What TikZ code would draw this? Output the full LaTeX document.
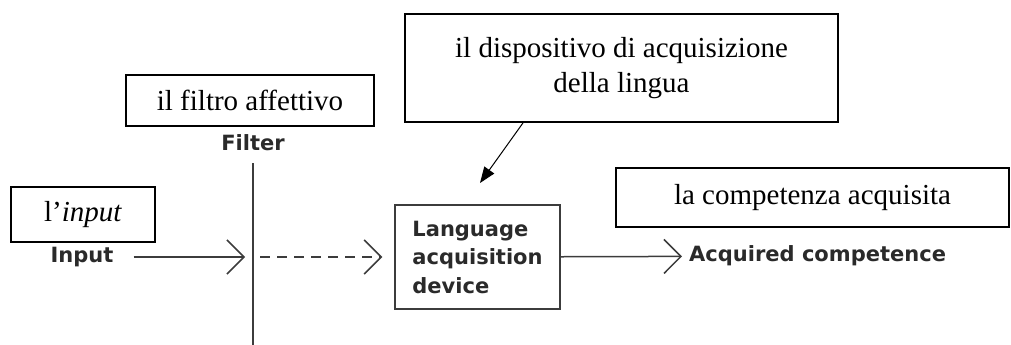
\documentclass[tikz,border=0pt]{standalone}
\usepackage{fontspec}
\setmainfont{Liberation Serif}
\newfontfamily\sansbold{DejaVu Sans}
\usetikzlibrary{arrows.meta}
\definecolor{ink}{HTML}{3C3C3C}
\begin{document}
\begin{tikzpicture}[x=1pt,y=-1pt,
  note/.style={draw,line width=1.8pt,inner sep=0pt,align=center,font=\fontsize{29}{35}\selectfont},
  tag/.style={text=ink!70!black,inner sep=0pt,font=\sansbold\bfseries\fontsize{21}{28.5}\selectfont},
  barb/.style={draw=ink,line width=1.5pt,-{Straight Barb[length=17pt,width=34pt]}}]
\useasboundingbox (0,0) rectangle (1011,345);
% Italian notes
\node[note,minimum width=144pt,minimum height=55pt] (noteinput) at (83,214.5) {l’\textit{input}};
\node[note,minimum width=248pt,minimum height=51pt] (notefilter) at (250,100.5) {il filtro affettivo};
\node[note,minimum width=433pt,minimum height=108pt] (notelad) at (621.5,68) {il dispositivo di acquisizione\\della lingua};
\node[note,minimum width=393pt,minimum height=59pt] (notecomp) at (812.5,197.5) {la competenza acquisita};

% model
\node[tag] (input) at (82,257) {Input};
\node[tag] (filter) at (253,143) {Filter};
\node[tag,draw=ink,line width=1.5pt,minimum width=165pt,minimum height=104pt,align=left] (lad) at (477.5,257) {Language\\acquisition\\device};
\node[tag,anchor=west] (acq) at (689,256) {Acquired competence};
\coordinate (ftop) at (253,163);
\coordinate (fbot) at (253,345);
\coordinate (fmid) at (253,257);
\coordinate (ladtop) at (480,183);

\path[draw=ink,line width=2pt] (ftop) -- (fbot);
\path[barb,shorten <=20pt,shorten >=8pt] (input) -- (fmid);
\path[barb,dash pattern=on 10pt off 7pt,shorten <=7pt,shorten >=12pt] (fmid) -- (lad);
\path[barb,shorten >=7pt] (lad) -- (acq);
\path[draw,line width=1pt,-{Triangle[length=16pt,width=12pt]}] ([xshift=-98.5pt]notelad.south) -- (ladtop);
\end{tikzpicture}
\end{document}
